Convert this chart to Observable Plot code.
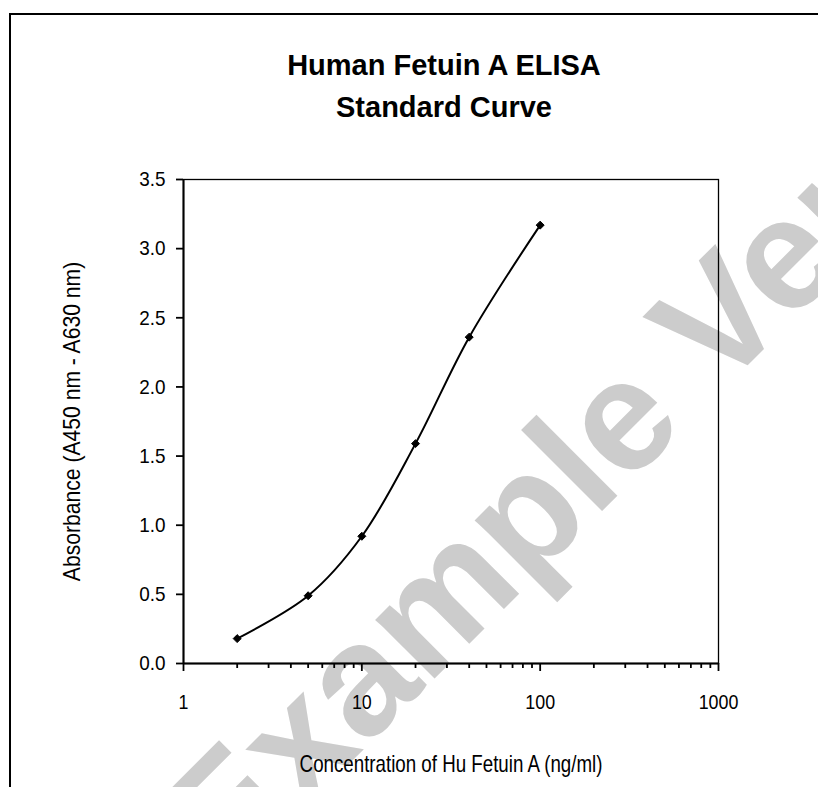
<!DOCTYPE html>
<html>
<head>
<meta charset="utf-8">
<script src="https://cdn.jsdelivr.net/npm/d3@7"></script>
<script src="https://cdn.jsdelivr.net/npm/@observablehq/plot@0.6"></script>
<style>
  html, body { margin: 0; padding: 0; background: #fff; }
  #wrap { position: relative; width: 818px; height: 787px; overflow: hidden; font-family: "Liberation Sans", Arial, sans-serif; }
  #wm { position: absolute; left: 0; top: 0; }
  #border { position: absolute; left: 9px; top: 13px; width: 1000px; height: 1000px; border: 2px solid #000; box-sizing: border-box; }
  #chart { position: absolute; left: 0; top: 0; }
  #chart svg { background: transparent !important; }
  #title { position: absolute; left: 244px; width: 400px; top: 44px; text-align: center; font-weight: bold; font-size: 29px; line-height: 42px; color: #000; }
</style>
</head>
<body>
<div id="wrap">
  <svg id="wm" width="818" height="787">
    <text x="228" y="885" transform="rotate(-45 228 885)" font-family="Liberation Sans, Arial, sans-serif" font-weight="bold" font-size="158" fill="#cccccc">Example Version</text>
  </svg>
  <div id="border"></div>
  <div id="chart"></div>
  <div id="title">Human Fetuin A ELISA<br>Standard Curve</div>
</div>
<script>
// Data
const concentration = [2, 5, 10, 20, 40, 100];        // ng/ml
const absorbance    = [0.18, 0.49, 0.92, 1.59, 2.36, 3.17];
const xMajorTicks = [1, 10, 100, 1000];
const xMinorTicks = [2,3,4,5,6,7,8,9, 20,30,40,50,60,70,80,90, 200,300,400,500,600,700,800,900];
const yTicks = [0, 0.5, 1.0, 1.5, 2.0, 2.5, 3.0, 3.5];
const xLabel = "Concentration of Hu Fetuin A (ng/ml)";
const yLabel = "Absorbance (A450 nm - A630 nm)";

const data = concentration.map((c, i) => ({c, a: absorbance[i]}));

const chart = Plot.plot({
  width: 818,
  height: 787,
  marginLeft: 183,
  marginRight: 100,
  marginTop: 179,
  marginBottom: 124,
  style: {fontFamily: "Liberation Sans, Arial, sans-serif", fontSize: "21px", color: "#000", background: "transparent"},
  x: {type: "log", domain: [1, 1000]},
  y: {domain: [0, 3.5]},
  marks: [
    Plot.frame({stroke: "#000", strokeWidth: 1.3}),
    Plot.axisY({ticks: yTicks, tickSize: 7, tickPadding: 11, tickFormat: d3.format(".1f"), label: null, fontSize: 21, strokeWidth: 1.8}),
    Plot.axisX({ticks: xMajorTicks, tickSize: 8, tickPadding: 23, tickFormat: d => String(d), label: null, fontSize: 21, strokeWidth: 1.8}),
    Plot.axisX({ticks: xMinorTicks, tickSize: 5, tickFormat: () => "", label: null, strokeWidth: 1.8}),
    Plot.ruleY([0], {stroke: "#000", strokeWidth: 2}),
    Plot.ruleX([1], {stroke: "#000", strokeWidth: 2}),
    Plot.line(data, {x: "c", y: "a", curve: "catmull-rom", stroke: "#000", strokeWidth: 2}),
    Plot.dot(data, {x: "c", y: "a", symbol: "diamond2", fill: "#000", stroke: "#000", strokeWidth: 1, r: 3.6}),
    Plot.text([xLabel], {text: d => d, frameAnchor: "bottom", dy: 101, lineAnchor: "middle", textAnchor: "middle", fontSize: 24}),
    Plot.text([yLabel], {text: d => d, frameAnchor: "left", dx: -111, rotate: -90, lineAnchor: "middle", textAnchor: "middle", fontSize: 24})
  ]
});
document.getElementById("chart").appendChild(chart);

// condense glyphs horizontally (the reference uses a narrow face)
function squeezeEl(t, factor) {
  const w = t.getComputedTextLength();
  if (w > 0) {
    t.setAttribute("textLength", (w * factor).toFixed(1));
    t.setAttribute("lengthAdjust", "spacingAndGlyphs");
  }
}
chart.querySelectorAll('g[aria-label="y-axis tick label"] text').forEach(t => squeezeEl(t, 0.9));
chart.querySelectorAll('g[aria-label="x-axis tick label"] text').forEach(t => squeezeEl(t, 0.85));
chart.querySelectorAll("text").forEach(t => {
  if (t.textContent === xLabel) squeezeEl(t, 0.78);
  if (t.textContent === yLabel) squeezeEl(t, 0.88);
});
</script>
</body>
</html>
